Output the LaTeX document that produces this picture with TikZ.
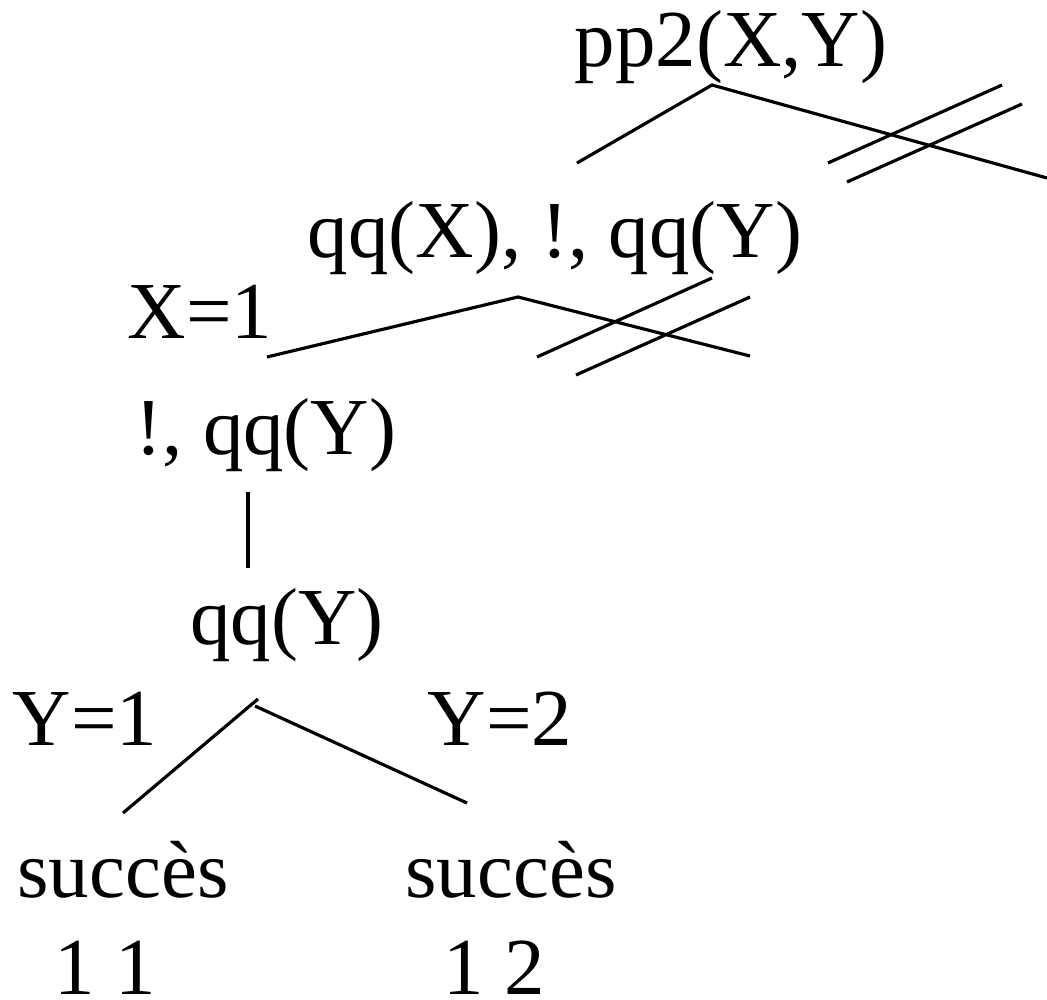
\documentclass[tikz,border=0pt]{standalone}
\usepackage{fontspec}
\setmainfont{Liberation Serif}
\usetikzlibrary{positioning}
\tikzset{
  goal/.style={anchor=base, inner sep=0pt, font=\fontsize{23}{28}\selectfont},
  branch/.style={line width=0.9pt},
  cutmark/.style={line width=0.9pt}
}

\begin{document}
\begin{tikzpicture}[x=0.01cm,y=-0.01cm]
    \useasboundingbox (0,0) rectangle (1047,1000);

    % goals and bindings
    \node[goal] (pp) at (731,67) {pp2(X,Y)};
    \node[goal] (qqcut) at (555,258) {qq(X), !, qq(Y)};
    \node[goal] (xone) at (200,338) {X=1};
    \node[goal] (cutqq) at (266,455) {!, qq(Y)};
    \node[goal] (qq) at (287,645) {qq(Y)};
    \node[goal] (yone) at (85,745) {Y=1};
    \node[goal] (ytwo) at (500,745) {Y=2};
    \node[goal] (okone) at (123,898) {succès};
    \node[goal] (oktwo) at (511,898) {succès};
    \node[goal] (resone) at (105,995) {1 1};
    \node[goal] (restwo) at (494,995) {1 2};

    % branch ends
    \coordinate (pptop) at (712,85);
    \coordinate (ppleft) at (577,163);
    \coordinate (ppright) at (1047,178);
    \coordinate (qqtop) at (518,297);
    \coordinate (qqleft) at (267,357);
    \coordinate (qqright) at (750,356);
    \coordinate (cuttop) at (248,492);
    \coordinate (cutbot) at (248,568);
    \coordinate (ytopl) at (258,699);
    \coordinate (ytopr) at (255,706);
    \coordinate (yleft) at (123,813);
    \coordinate (yright) at (467,803);

    \draw[branch] (ppleft) -- (pptop) -- (ppright);
    \draw[branch] (qqleft) -- (qqtop) -- (qqright);
    \draw[branch] (cuttop) -- (cutbot);
    \draw[branch] (yleft) -- (ytopl);
    \draw[branch] (ytopr) -- (yright);

    % branches cut off by !
    \draw[cutmark] (828,163) -- (1002,85);
    \draw[cutmark] (847,182) -- (1022,104);
    \draw[cutmark] (537,357) -- (712,278);
    \draw[cutmark] (576,375) -- (750,297);
\end{tikzpicture}
\end{document}
